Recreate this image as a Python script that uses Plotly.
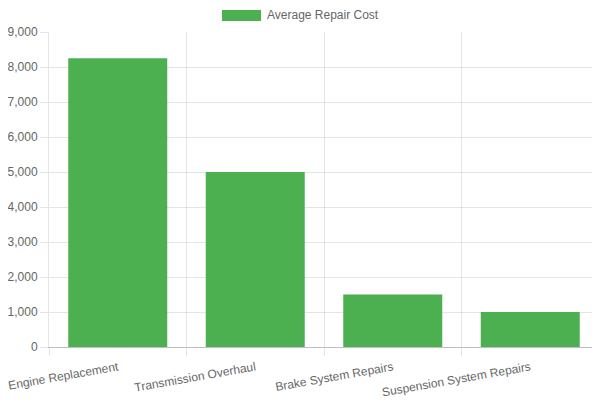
import plotly.graph_objects as go

categories = ["Engine Replacement", "Transmission Overhaul", "Brake System Repairs", "Suspension System Repairs"]
values = [8250, 5000, 1500, 1000]
series_name = "Average Repair Cost"
y_ticks = [0, 1000, 2000, 3000, 4000, 5000, 6000, 7000, 8000, 9000]

green = "#4CAF50"
grid = "rgba(0,0,0,0.1)"
font = dict(family="Liberation Sans, Arial, sans-serif", size=12, color="#666666")

fig = go.Figure(go.Bar(x=categories, y=values, name=series_name, marker=dict(color=green, line=dict(width=0)),
                       showlegend=False))

# page body has an 8px margin, so the figure is sized to fill the rest of the window
fig.update_layout(
    width=592, height=392,
    margin=dict(l=41, r=1, t=24, b=53, autoexpand=False),
    paper_bgcolor="white", plot_bgcolor="white",
    font=font, bargap=0.28,
)
fig.update_xaxes(type="category", tickson="boundaries", showgrid=True, gridcolor=grid, gridwidth=1,
                 ticks="outside", ticklen=8, tickcolor=grid, tickangle=-10, automargin=False,
                 ticklabelstandoff=8,
                 showline=True, linecolor="rgba(0,0,0,0.25)", linewidth=1, tickfont=font)
fig.update_yaxes(range=[0, 9000], tickvals=y_ticks, tickformat=",d", showgrid=True, gridcolor=grid,
                 ticks="outside", ticklen=8, tickcolor=grid, showline=True, linecolor=grid,
                 zeroline=False, tickfont=font, automargin=False)

# legend drawn like the reference (wide swatch + label)
fig.add_shape(type="rect", xref="paper", yref="paper", x0=(222-49)/550, x1=(261-49)/550,
              y0=(347-21)/315, y1=(347-10)/315, fillcolor=green, line=dict(width=0))
fig.add_annotation(text=series_name, xref="paper", yref="paper", x=(265-49)/550, y=(347-15.5)/315,
                   xanchor="left", yanchor="middle", showarrow=False, font=font)

fig.write_html("out.html")
